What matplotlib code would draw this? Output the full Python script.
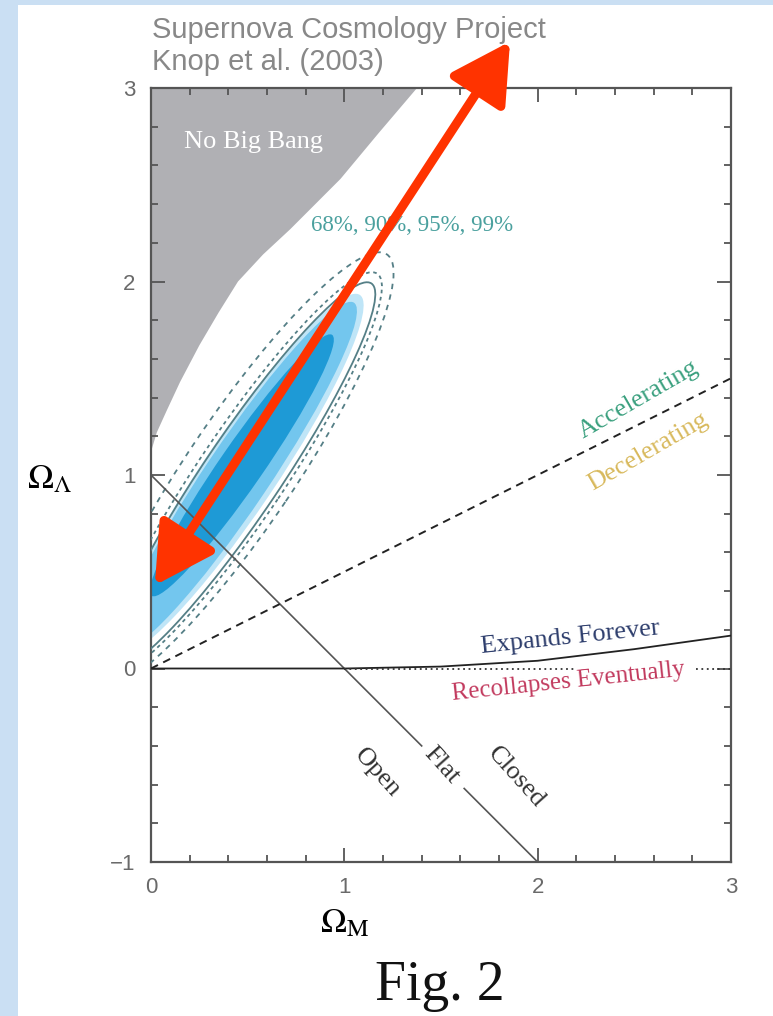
import numpy as np
import matplotlib
matplotlib.use("Agg")
import matplotlib.pyplot as plt
from matplotlib.patches import Ellipse, Rectangle, Polygon
from matplotlib.ticker import MultipleLocator

plt.rcParams['mathtext.fontset'] = 'stix'

# --- values (Omega_M, Omega_Lambda) ---
no_big_bang_x = [0.0, 0.0, 0.03, 0.08, 0.15, 0.25, 0.35, 0.45, 0.58, 0.72, 0.98, 1.18, 1.376]
no_big_bang_y = [3.0, 1.12, 1.22, 1.33, 1.48, 1.67, 1.84, 2.0, 2.14, 2.27, 2.53, 2.77, 3.0]

flat_x1 = [0.0, 1.40]
flat_y1 = [1.0, -0.40]
flat_x2 = [1.62, 2.0]
flat_y2 = [-0.62, -1.0]

accel_x = [0.0, 3.0]
accel_y = [0.0, 1.5]

expand_x = [0.0, 1.0, 1.5, 2.0, 2.5, 3.0]
expand_y = [0.0, 0.0, 0.01, 0.04, 0.10, 0.17]

recollapse_x1 = [1.0, 2.2]
recollapse_y1 = [0.0, 0.0]
recollapse_x2 = [2.82, 3.0]
recollapse_y2 = [0.0, 0.0]

# confidence regions (filled): centre x, centre y, semi-major, semi-minor, angle
fill_cx = [0.454, 0.446, 0.47]
fill_cy = [1.002, 0.995, 1.05]
fill_a = [1.12, 1.08, 0.82]
fill_b = [0.19, 0.165, 0.112]
fill_ang = [56, 56, 55.3]
fill_colors = ['#bfe5f7', '#73c6ee', '#1e9ad6']
# contour lines: 95% solid, extra dotted, 99% dashed
line_cx = [0.469, 0.471, 0.465]
line_cy = [0.995, 1.004, 1.021]
line_a = [1.20, 1.25, 1.35]
line_b = [0.20, 0.225, 0.28]
line_styles = ['-', (0, (2, 2)), (0, (3, 3))]

arrow_tail = (1.857, 3.24)
arrow_head = (0.02, 0.43)

fig = plt.figure(figsize=(7.73, 10.16), dpi=100)
fig.patch.set_facecolor('#cadff3')
fig.add_artist(Rectangle((18 / 773, 0), 1 - 18 / 773, 1 - 5 / 1016,
                         transform=fig.transFigure, facecolor='white',
                         edgecolor='none', zorder=0))

ax = fig.add_axes([151 / 773, 1 - 862 / 1016, 580 / 773, 774 / 1016])
ax.set_xlim(0, 3)
ax.set_ylim(-1, 3)

# no big bang
ax.add_patch(Polygon(list(zip(no_big_bang_x, no_big_bang_y)), closed=True,
                     facecolor='#b0b0b4', edgecolor='none', zorder=1))
ax.text(0.53, 2.72, 'No Big Bang', color='white', fontsize=19,
        family='Liberation Serif', ha='center', va='center', zorder=2)

# contours
for cx, cy, a, b, ang, c in zip(fill_cx, fill_cy, fill_a, fill_b, fill_ang, fill_colors):
    ax.add_patch(Ellipse((cx, cy), 2 * a, 2 * b, angle=ang,
                         facecolor=c, edgecolor='none', zorder=2))
for cx, cy, a, b, ls in zip(line_cx, line_cy, line_a, line_b, line_styles):
    ax.add_patch(Ellipse((cx, cy), 2 * a, 2 * b, angle=56,
                         facecolor='none', edgecolor='#557f86', lw=1.3,
                         ls=ls, zorder=3))
ax.text(1.35, 2.29, '68%, 90%, 95%, 99%', color='#4aa09e', fontsize=16.5,
        family='Liberation Serif', ha='center', va='center', zorder=4)

# lines
ax.plot(flat_x1, flat_y1, color='#555555', lw=1.2, zorder=3)
ax.plot(flat_x2, flat_y2, color='#555555', lw=1.2, zorder=3)
ax.plot(accel_x, accel_y, color='#222222', lw=1.4, ls=(0, (4, 3)), zorder=3)
ax.plot(expand_x, expand_y, color='#222222', lw=1.3, zorder=3)
ax.plot(recollapse_x1, recollapse_y1, color='#333333', lw=1.3, ls=(0, (1, 2)), zorder=3)
ax.plot(recollapse_x2, recollapse_y2, color='#333333', lw=1.3, ls=(0, (1, 2)), zorder=3)

serif = 'Liberation Serif'
ax.text(2.52, 1.39, 'Accelerating', color='#3aa07e', fontsize=19, family=serif,
        rotation=30, ha='center', va='center', rotation_mode='anchor')
ax.text(2.57, 1.12, 'Decelerating', color='#d8b95c', fontsize=19, family=serif,
        rotation=30, ha='center', va='center', rotation_mode='anchor')
ax.text(2.17, 0.16, 'Expands Forever', color='#2d3d6c', fontsize=19, family=serif,
        rotation=6, ha='center', va='center', rotation_mode='anchor')
ax.text(2.16, -0.07, 'Recollapses Eventually', color='#c23a5e', fontsize=18,
        family=serif, rotation=6, ha='center', va='center', rotation_mode='anchor')
ax.text(1.17, -0.54, 'Open', color='#333333', fontsize=19, family=serif,
        rotation=-48, ha='center', va='center', rotation_mode='anchor')
ax.text(1.50, -0.50, 'Flat', color='#333333', fontsize=19, family=serif,
        rotation=-48, ha='center', va='center', rotation_mode='anchor')
ax.text(1.89, -0.56, 'Closed', color='#333333', fontsize=19, family=serif,
        rotation=-48, ha='center', va='center', rotation_mode='anchor')

# axes style
for s in ax.spines.values():
    s.set_color('#555555')
    s.set_linewidth(1.6)
ax.set_xticks([0, 1, 2, 3])
ax.set_xticklabels(['0', '1', '2', '3'], fontsize=16, family='Liberation Sans')
ax.set_yticks([-1, 0, 1, 2, 3])
ax.set_yticklabels(['\u22121', '0', '1', '2', '3'], fontsize=16, family='Liberation Sans')
ax.xaxis.set_minor_locator(MultipleLocator(0.2))
ax.yaxis.set_minor_locator(MultipleLocator(0.2))
ax.tick_params(which='both', direction='in', top=True, right=True,
               color='#555555', width=1.3)
ax.tick_params(which='major', length=10, labelcolor='#6a6a6a', pad=11)
ax.tick_params(which='minor', length=5)

# red arrow
ax.annotate('', xy=arrow_head, xytext=arrow_tail,
            arrowprops=dict(arrowstyle='<|-|>,head_length=1.8,head_width=1.0',
                            mutation_scale=20, color='#ff3300', lw=6.5,
                            shrinkA=0, shrinkB=0, clip_on=False),
            annotation_clip=False, zorder=10)

# labels
fig.text(50 / 773, 1 - 478 / 1016, r'$\Omega_\Lambda$', fontsize=25,
         ha='center', va='center')
fig.text(345 / 773, 1 - 922 / 1016, r'$\Omega_{\rm M}$', fontsize=25,
         ha='center', va='center')
fig.text(152 / 773, 1 - 38 / 1016, 'Supernova Cosmology Project',
         fontsize=21, color='#888888', family='Liberation Sans', va='baseline')
fig.text(152 / 773, 1 - 70 / 1016, 'Knop et al. (2003)',
         fontsize=21, color='#888888', family='Liberation Sans', va='baseline')
fig.text(440 / 773, 1 - 1000 / 1016, 'Fig. 2', fontsize=40, color='#111111',
         family='Liberation Serif', ha='center', va='baseline')

fig.savefig('out.png', dpi=100, facecolor=fig.get_facecolor())
